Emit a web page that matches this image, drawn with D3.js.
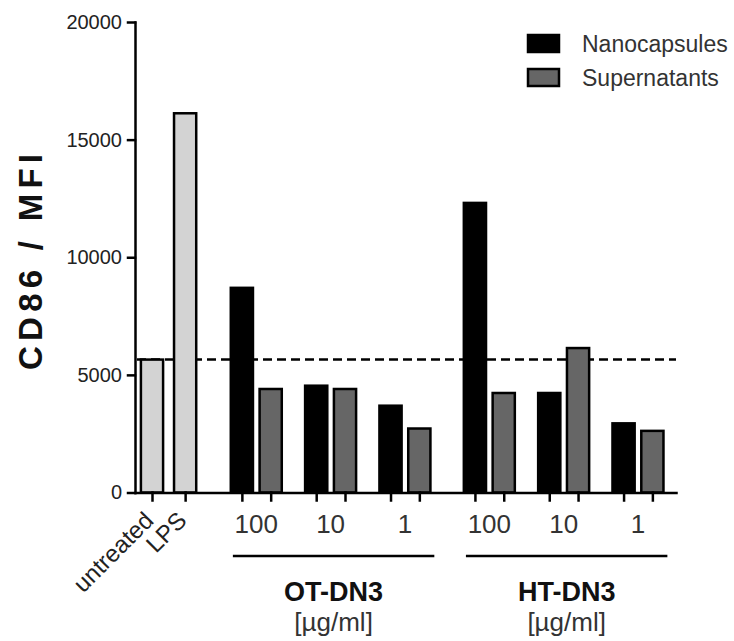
<!DOCTYPE html>
<html>
<head>
<meta charset="utf-8">
<script src="https://cdn.jsdelivr.net/npm/d3@7"></script>
<style>
  body { margin: 0; background: #fff; }
  svg { display: block; font-family: 'Liberation Sans', Arial, sans-serif; }
  .axis path, .axis line { stroke: #000; stroke-width: 2.5; stroke-linecap: square; }
  .axis text { font-size: 20px; fill: #222; }
</style>
</head>
<body>
<svg id="chart" width="734" height="641"></svg>
<script>
// Data (CD86 MFI)
var controls = ['untreated', 'LPS'];
var controlValues = [5650, 16120];
var seriesNames = ['Nanocapsules', 'Supernatants'];
var compounds = ['OT-DN3', 'HT-DN3'];
var doses = ['100', '10', '1'];
var doseUnit = '[µg/ml]';
// one row per compound, one value per dose
var nanocapsules = [
  [8700, 4540, 3690],
  [12310, 4230, 2940]
];
var supernatants = [
  [4400, 4400, 2720],
  [4230, 6140, 2620]
];
var yTicks = [0, 5000, 10000, 15000, 20000];
var yLabel = 'CD86 / MFI';

var colors = {
  control: '#d3d3d3',
  Nanocapsules: '#000',
  Supernatants: '#666'
};

var svg = d3.select('#chart');

/**
 * Lays bars out on a "slot" axis, one unit per bar, with wider gaps
 * between doses and between compounds (Prism style grouping).
 */
function layoutBars() {
  var bars = [], groups = [], slot;

  controls.forEach(function(name, i) {
    bars.push({slot: i * 1.15, value: controlValues[i], fill: colors.control});
  });

  slot = (controls.length - 1) * 1.15 + 1.97;
  compounds.forEach(function(name, c) {
    var group = {name: name, pairs: []};
    doses.forEach(function(dose, d) {
      bars.push({slot: slot, value: nanocapsules[c][d], fill: colors[seriesNames[0]]});
      bars.push({slot: slot + 1, value: supernatants[c][d], fill: colors[seriesNames[1]]});
      group.pairs.push({dose: dose, slot: slot});
      slot += (d < doses.length - 1) ? 2.58 : 2.93;
    });
    groups.push(group);
  });

  return {bars: bars, groups: groups};
}

var layout = layoutBars();
var bars = layout.bars;
var groups = layout.groups;

var x = d3.scaleLinear().domain([-0.59, 18.19]).range([135, 676]);
var y = d3.scaleLinear().domain([0, 20000]).range([492.5, 22]);
var barWidth = x(0.77) - x(0);

// Reference line at the untreated level, drawn behind the bars
svg.append('line')
  .attr('x1', x.range()[0] + 2)
  .attr('x2', x.range()[1])
  .attr('y1', y(controlValues[0]))
  .attr('y2', y(controlValues[0]))
  .attr('stroke', '#000')
  .attr('stroke-width', 2.5)
  .attr('stroke-dasharray', '9,5');

svg.append('g')
  .selectAll('rect')
  .data(bars)
  .enter()
  .append('rect')
  .attr('x', function(d) { return x(d.slot) - barWidth / 2; })
  .attr('y', function(d) { return y(d.value); })
  .attr('width', barWidth)
  .attr('height', function(d) { return y(0) - y(d.value); })
  .attr('fill', function(d) { return d.fill; })
  .attr('stroke', '#000')
  .attr('stroke-width', 2.5);

// Axes
svg.append('g')
  .attr('class', 'axis')
  .attr('transform', 'translate(' + x.range()[0] + ',0)')
  .call(d3.axisLeft(y)
    .tickValues(yTicks)
    .tickSize(7)
    .tickSizeOuter(0)
    .tickPadding(6)
    .tickFormat(d3.format('d')));

svg.append('g')
  .attr('class', 'axis')
  .attr('transform', 'translate(0,' + y(0) + ')')
  .call(d3.axisBottom(x)
    .tickValues(bars.map(function(d) { return d.slot; }))
    .tickSize(8)
    .tickSizeOuter(0)
    .tickFormat(''));

// Control labels, rotated
svg.append('g')
  .selectAll('text')
  .data(controls)
  .enter()
  .append('text')
  .attr('transform', function(d, i) {
    return 'translate(' + (x(i * 1.15) + 3) + ',522) rotate(-45)';
  })
  .attr('text-anchor', 'end')
  .attr('font-size', 24)
  .attr('fill', '#222')
  .text(String);

// Dose labels, brackets and compound names
groups.forEach(function(group) {
  var g = svg.append('g');
  var first = group.pairs[0].slot;
  var last = group.pairs[group.pairs.length - 1].slot + 1;
  var x1 = x(first) - 9, x2 = x(last) + 15;
  var cx = (x1 + x2) / 2;

  g.selectAll('text.dose')
    .data(group.pairs)
    .enter()
    .append('text')
    .attr('class', 'dose')
    .attr('x', function(d) { return x(d.slot + 0.5); })
    .attr('y', 533)
    .attr('text-anchor', 'middle')
    .attr('font-size', 26)
    .attr('fill', '#333')
    .text(function(d) { return d.dose; });

  g.append('line')
    .attr('x1', x1).attr('x2', x2)
    .attr('y1', 556).attr('y2', 556)
    .attr('stroke', '#000')
    .attr('stroke-width', 2.5);

  g.append('text')
    .attr('x', cx)
    .attr('y', 601)
    .attr('text-anchor', 'middle')
    .attr('font-size', 27)
    .attr('font-weight', 'bold')
    .attr('fill', '#111')
    .text(group.name);

  g.append('text')
    .attr('x', cx)
    .attr('y', 631)
    .attr('text-anchor', 'middle')
    .attr('font-size', 26)
    .attr('fill', '#333')
    .text(doseUnit);
});

// Y axis title
svg.append('text')
  .attr('transform', 'translate(42,262) rotate(-90)')
  .attr('text-anchor', 'middle')
  .attr('font-size', 33)
  .attr('font-weight', 'bold')
  .attr('textLength', 216)
  .attr('lengthAdjust', 'spacing')
  .attr('fill', '#111')
  .text(yLabel);

// Legend
var legend = svg.append('g')
  .selectAll('g')
  .data(seriesNames)
  .enter()
  .append('g')
  .attr('transform', function(d, i) { return 'translate(528,' + (35 + i * 34) + ')'; });

legend.append('rect')
  .attr('width', 31)
  .attr('height', 17)
  .attr('fill', function(d) { return colors[d]; })
  .attr('stroke', '#000')
  .attr('stroke-width', 2.5);

legend.append('text')
  .attr('x', 54)
  .attr('y', 17)
  .attr('font-size', 23)
  .attr('fill', '#333')
  .text(String);
</script>
</body>
</html>
